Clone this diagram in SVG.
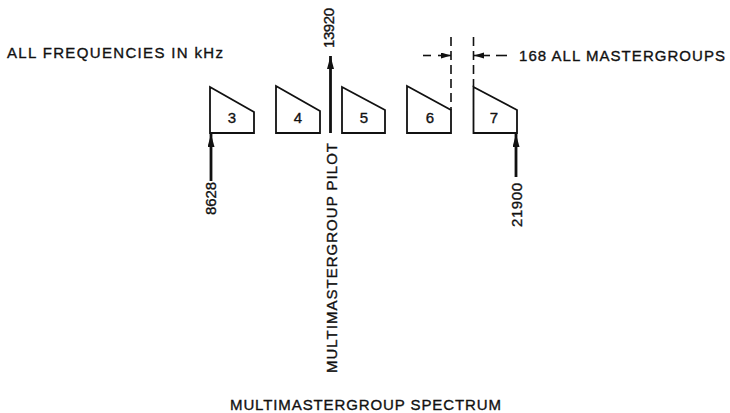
<svg xmlns="http://www.w3.org/2000/svg" width="730" height="413" viewBox="0 0 730 413">
<style>
text{font-family:"Liberation Sans",Arial,sans-serif;font-size:15px;fill:#111;stroke:#111;stroke-width:0.35}
.box{fill:#fff;stroke:#111;stroke-width:1.8;stroke-linejoin:miter}
.num{text-anchor:middle}
.arr{stroke:#111;stroke-width:2.8;fill:none}
.dash{stroke:#111;stroke-width:1.6;fill:none;stroke-dasharray:9,5}
.hl{stroke:#111;stroke-width:1.6;fill:none}
</style>
<defs>
<marker id="ah" markerUnits="userSpaceOnUse" markerWidth="14" markerHeight="8" refX="13" refY="3.5" orient="auto">
<path d="M0,0 L13,3.5 L0,7 z" fill="#111"/>
</marker>
<marker id="sh" markerUnits="userSpaceOnUse" markerWidth="11" markerHeight="7" refX="10" refY="3" orient="auto">
<path d="M0,0 L10,3 L0,6 z" fill="#111"/>
</marker>
</defs>
<rect width="730" height="413" fill="#fff"/>
<text x="7" y="58" textLength="216" lengthAdjust="spacing">ALL FREQUENCIES IN kHz</text>
<text x="519" y="61" textLength="206" lengthAdjust="spacing">168 ALL MASTERGROUPS</text>
<text x="230" y="410" textLength="271" lengthAdjust="spacing">MULTIMASTERGROUP SPECTRUM</text>
<g id="mg3"><polygon class="box" points="210,87 254,112 254,133 210,133"/><text class="num" x="232" y="123">3</text></g>
<g id="mg4"><polygon class="box" points="276,86 320,111 320,133 276,133"/><text class="num" x="298" y="123">4</text></g>
<g id="mg5"><polygon class="box" points="342,87 385,110 385,133 342,133"/><text class="num" x="364" y="123">5</text></g>
<g id="mg6"><polygon class="box" points="407,86 451,110 451,133 407,133"/><text class="num" x="430" y="123">6</text></g>
<g id="mg7"><polygon class="box" points="473.5,87 517,110 517,133 473.5,133"/><text class="num" x="494" y="123">7</text></g>
<g id="connectors">
<line class="arr" x1="211" y1="181" x2="211" y2="134" marker-end="url(#ah)"/>
<line class="arr" x1="516" y1="177" x2="516" y2="134" marker-end="url(#ah)"/>
<line class="arr" x1="330.5" y1="133" x2="330.5" y2="56" marker-end="url(#ah)"/>
<line class="dash" x1="451" y1="37" x2="451" y2="110"/>
<line class="dash" x1="473.5" y1="37" x2="473.5" y2="87"/>
<line class="hl" x1="423" y1="55.5" x2="431" y2="55.5"/>
<line class="hl" x1="438" y1="55.5" x2="451" y2="55.5" marker-end="url(#sh)"/>
<line class="hl" x1="490" y1="55.5" x2="474" y2="55.5" marker-end="url(#sh)"/>
<line class="hl" x1="496" y1="55.5" x2="507" y2="55.5"/>
</g>
<text transform="translate(216,215) rotate(-90)" textLength="33" lengthAdjust="spacing">8628</text>
<text transform="translate(522,227) rotate(-90)" textLength="44" lengthAdjust="spacing">21900</text>
<text transform="translate(334,48) rotate(-90)" textLength="40" lengthAdjust="spacing">13920</text>
<text transform="translate(337,373) rotate(-90)" textLength="230" lengthAdjust="spacing">MULTIMASTERGROUP PILOT</text>
</svg>
